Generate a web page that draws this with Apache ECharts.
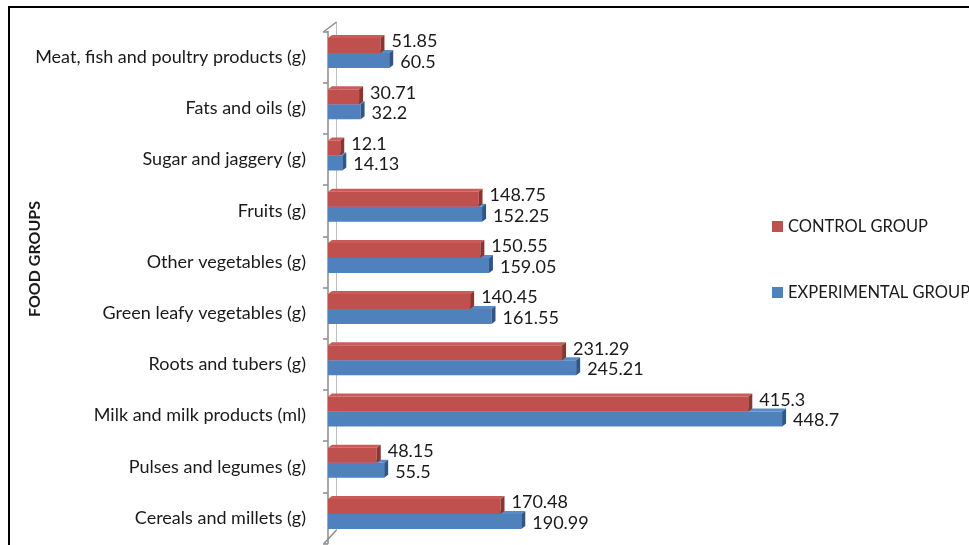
<!DOCTYPE html>
<html>
<head>
<meta charset="utf-8">
<script src="https://cdn.jsdelivr.net/npm/echarts@6/dist/echarts.min.js"></script>
<style>
html,body{margin:0;padding:0;background:#fff;}
#chart{width:969px;height:545px;}
</style>
</head>
<body>
<div id="chart"></div>
<script>
// Categories listed bottom to top
const categories = [
  'Cereals and millets (g)',
  'Pulses and legumes (g)',
  'Milk and milk products (ml)',
  'Roots and tubers (g)',
  'Green leafy vegetables (g)',
  'Other vegetables (g)',
  'Fruits (g)',
  'Sugar and jaggery (g)',
  'Fats and oils (g)',
  'Meat, fish and poultry products (g)'
];
const controlGroup = [170.48, 48.15, 415.3, 231.29, 140.45, 150.55, 148.75, 12.1, 30.71, 51.85];
const experimentalGroup = [190.99, 55.5, 448.7, 245.21, 161.55, 159.05, 152.25, 14.13, 32.2, 60.5];
const seriesNames = ['CONTROL GROUP', 'EXPERIMENTAL GROUP'];
const axisTitle = 'FOOD GROUPS';

const FONT = 'Lato';
const styles = {
  control: {front: '#C0504D', top: '#C95C59', side: '#8C3431', barTop: -19, labelDy: -4},
  experimental: {front: '#4F81BD', top: '#5A8BC6', side: '#2F5689', barTop: -4, labelDy: 1.5}
};

function makeRender(st) {
  return function (params, api) {
    const cat = api.value(1);
    const val = api.value(0);
    const p0 = api.coord([0, cat]);
    const p1 = api.coord([val, cat]);
    const x0 = p0[0], yc = p0[1], x1 = p1[0];
    const h = 15, dx = 4, dy = 3;
    const t = yc + st.barTop;
    return {
      type: 'group',
      children: [
        {type: 'polygon', shape: {points: [[x0, t], [x0 + dx, t - dy], [x1 + dx, t - dy], [x1, t]]},
          style: {fill: st.top}},
        {type: 'rect', shape: {x: x0, y: t, width: x1 - x0, height: h},
          style: {fill: st.front}},
        {type: 'polygon', shape: {points: [[x1, t], [x1 + dx, t - dy], [x1 + dx, t + h - dy], [x1, t + h]]},
          style: {fill: st.side}},
        {type: 'text', x: x1 + 11, y: t + h / 2 + st.labelDy,
          style: {text: String(val), fill: '#1a1a1a', font: '18px ' + FONT, textAlign: 'left', textVerticalAlign: 'middle'}}
      ]
    };
  };
}

const chart = echarts.init(document.getElementById('chart'));
chart.setOption({
  animation: false,
  backgroundColor: '#fff',
  grid: {left: 328, top: 31.5, height: 512, right: 135},
  xAxis: {type: 'value', min: 0, max: 500, show: false},
  yAxis: {
    type: 'category', data: categories, offset: 4,
    axisLine: {show: true, lineStyle: {color: '#8C8C8C', width: 1.5}},
    axisTick: {show: true, length: 5, lineStyle: {color: '#8C8C8C', width: 1.5}},
    axisLabel: {margin: 18, color: '#1a1a1a', fontFamily: FONT, fontSize: 18},
    splitLine: {show: false}
  },
  legend: {
    orient: 'vertical', left: 767, top: 213,
    itemWidth: 11, itemHeight: 11, itemGap: 49,
    icon: 'rect',
    data: seriesNames,
    textStyle: {color: '#1a1a1a', fontFamily: FONT, fontSize: 16.5}
  },
  graphic: [
    {type: 'rect', shape: {x: 9, y: 7, width: 1200, height: 800}, style: {fill: null, stroke: '#000', lineWidth: 2}, z: 0},
    {type: 'line', shape: {x1: 336.5, y1: 22, x2: 336.5, y2: 530}, style: {stroke: '#BFBFBF', lineWidth: 1}, z: 0},
    {type: 'line', shape: {x1: 324, y1: 31.5, x2: 336.5, y2: 22}, style: {stroke: '#8C8C8C', lineWidth: 1.5}, z: 0},
    {type: 'line', shape: {x1: 324, y1: 543.5, x2: 336.5, y2: 530}, style: {stroke: '#8C8C8C', lineWidth: 1.5}, z: 0},
    {type: 'text', x: 35, y: 259, rotation: Math.PI / 2,
      style: {text: axisTitle, fill: '#1a1a1a', font: 'bold 16px ' + FONT, textAlign: 'center', textVerticalAlign: 'middle'}}
  ],
  series: [
    {
      name: seriesNames[1], type: 'custom', z: 2,
      itemStyle: {color: styles.experimental.front},
      encode: {x: 0, y: 1},
      data: experimentalGroup.map((v, i) => [v, i]),
      renderItem: makeRender(styles.experimental)
    },
    {
      name: seriesNames[0], type: 'custom', z: 3,
      itemStyle: {color: styles.control.front},
      encode: {x: 0, y: 1},
      data: controlGroup.map((v, i) => [v, i]),
      renderItem: makeRender(styles.control)
    }
  ]
});
</script>
</body>
</html>
